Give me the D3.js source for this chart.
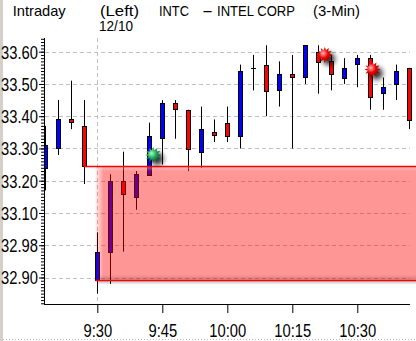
<!DOCTYPE html>
<html>
<head>
<meta charset='utf-8'>
<title>INTC Intraday</title>
<script src='https://d3js.org/d3.v7.min.js'></script>
<style>
  body { margin: 0; background: #fff; }
  svg { display: block; }
</style>
</head>
<body>
<div id='chart'></div>
<script>
// 3-min bars, 12/10
const times  = ['9:18','9:21','9:24','9:27','9:30','9:33','9:36','9:39','9:42','9:45',
                '9:48','9:51','9:54','9:57','10:00','10:03','10:06','10:09','10:12','10:15',
                '10:18','10:21','10:24','10:27','10:30','10:33','10:36','10:39','10:42'];
const opens  = [33.24, 33.30, 33.39, 33.37, 32.893, 32.98, 33.20, 33.15, 33.22, 33.33,
                33.44, 33.42, 33.29, 33.35, 33.38, 33.34, 33.55, 33.56, 33.48, 33.53,
                33.52, 33.60, 33.57, 33.52, 33.56, 33.58, 33.47, 33.50, 33.55];
const highs  = [33.37, 33.45, 33.51, 33.45, 33.04, 33.22, 33.29, 33.23, 33.38, 33.45,
                33.45, 33.42, 33.43, 33.39, 33.43, 33.56, 33.59, 33.62, 33.57, 33.59,
                33.62, 33.62, 33.59, 33.58, 33.59, 33.59, 33.52, 33.56, 33.55];
const lows   = [33.17, 33.28, 33.36, 33.19, 32.85, 32.88, 32.98, 33.11, 33.22, 33.25,
                33.33, 33.23, 33.24, 33.32, 33.32, 33.30, 33.48, 33.40, 33.43, 33.30,
                33.50, 33.47, 33.48, 33.50, 33.49, 33.42, 33.42, 33.45, 33.36];
const closes = [33.31, 33.39, 33.38, 33.245, 32.98, 33.20, 33.16, 33.22, 33.34, 33.44,
                33.42, 33.30, 33.36, 33.34, 33.34, 33.54, 33.55, 33.48, 33.53, 33.52,
                33.62, 33.57, 33.53, 33.55, 33.58, 33.46, 33.49, 33.54, 33.39];

const yTickValues = [32.90, 33.00, 33.10, 33.20, 33.30, 33.40, 33.50, 33.60];
const yTickLabels = ['32.90', '32.98', '33.10', '33.20', '33.30', '33.40', '33.50', '33.60'];
const xTickLabels = ['9:30', '9:45', '10:00', '10:15', '10:30'];

// signal markers (minutes after midnight, price, kind)
const markerMinutes = [582.9, 622.5, 633.5];
const markerPrices  = [33.28, 33.59, 33.545];
const markerKinds   = ['buy', 'sell', 'sell'];

const toMin = s => { const p = s.split(':'); return +p[0] * 60 + +p[1]; };

const W = 416, H = 341;
const padL = 44, padR = 410, axisY = 304, axisTop = 38;

const svg = d3.select('#chart').append('svg')
    .attr('width', W).attr('height', H);

const defs = svg.append('defs');
defs.append('clipPath').attr('id', 'plot')
  .append('rect').attr('x', padL + 1).attr('y', 0).attr('width', W - padL).attr('height', axisY);

const x = d3.scaleLinear().domain([toMin('9:30'), toMin('10:45')]).range([97.3, 422.3]);
const y = d3.scaleLinear().domain([32.90, 33.60]).range([277.5, 51.7]);

const bars = times.map((t, i) => ({t: toMin(t), o: opens[i], h: highs[i], l: lows[i], c: closes[i]}));

// window frame bits
svg.append('rect').attr('x', 0).attr('y', 0).attr('width', 3).attr('height', H).attr('fill', '#d4d0c8');
svg.append('line').attr('x1', 3).attr('x2', W).attr('y1', 339.5).attr('y2', 339.5)
   .attr('stroke', '#b8b8b8').attr('stroke-dasharray', '1,2');

// titles
const title = svg.append('g').attr('font-family', 'Liberation Sans, Arial, sans-serif')
    .attr('font-size', '15px').attr('fill', '#000');
const titleBits = [
  {t: 'Intraday', x: 12.7, y: 15.5, w: 53},
  {t: '(Left)', x: 100, y: 15.5, w: 39},
  {t: '12/10', x: 99, y: 31, w: 34},
  {t: 'INTC', x: 159, y: 15.5, w: 30},
  {t: '-', x: 202, y: 15.5, w: 11},
  {t: 'INTEL CORP', x: 217, y: 15.5, w: 78},
  {t: '(3-Min)', x: 313, y: 15.5, w: 47}
];
title.selectAll('text').data(titleBits).enter().append('text')
    .attr('x', d => d.x).attr('y', d => d.y)
    .attr('textLength', d => d.w).attr('lengthAdjust', 'spacingAndGlyphs')
    .text(d => d.t);

// grid
const grid = svg.append('g').attr('stroke', '#c0c0c0').attr('stroke-dasharray', '4,3');
grid.selectAll('line.h').data(yTickValues).enter().append('line')
    .attr('x1', padL + 1).attr('x2', padR)
    .attr('y1', d => Math.round(y(d)) + 0.5).attr('y2', d => Math.round(y(d)) + 0.5);
grid.append('line')
    .attr('x1', Math.round(x(toMin('9:30'))) + 0.5).attr('x2', Math.round(x(toMin('9:30'))) + 0.5)
    .attr('y1', axisTop).attr('y2', axisY);

// candles
const plot = svg.append('g').attr('clip-path', 'url(#plot)');
const cx = d => Math.round(x(d.t)) + 0.5;
plot.selectAll('line.wick').data(bars).enter().append('line')
    .attr('x1', cx).attr('x2', cx)
    .attr('y1', d => y(d.h)).attr('y2', d => y(d.l))
    .attr('stroke', '#000').attr('stroke-width', 1);
plot.selectAll('rect.body').data(bars).enter().append('rect')
    .attr('x', d => cx(d) - 2)
    .attr('width', 4)
    .attr('y', d => Math.round(y(Math.max(d.o, d.c))) + 0.5)
    .attr('height', d => Math.max(0.01, Math.round(Math.abs(y(d.o) - y(d.c)))))
    .attr('fill', d => d.c > d.o ? '#0000ff' : (d.c < d.o ? '#ff0000' : '#000'))
    .attr('stroke', '#000').attr('stroke-width', 1);

// opening gap band: prior close (9:27) to 9:30 open
const gapTop = closes[3], gapBottom = opens[4];
const gx0 = x(toMin('9:30'));
const gy0 = y(gapTop), gy1 = y(gapBottom);

const gFill = defs.append('linearGradient').attr('id', 'gapfill')
    .attr('gradientUnits', 'userSpaceOnUse').attr('x1', gx0 - 2).attr('x2', gx0 + 6).attr('y1', 0).attr('y2', 0);
gFill.append('stop').attr('offset', 0).attr('stop-color', '#ff0000').attr('stop-opacity', 0.05);
gFill.append('stop').attr('offset', 1).attr('stop-color', '#ff0000').attr('stop-opacity', 0.41);

const shade = defs.append('linearGradient').attr('id', 'shade').attr('x1', 0).attr('x2', 0).attr('y1', 0).attr('y2', 1);
shade.append('stop').attr('offset', 0).attr('stop-color', '#000').attr('stop-opacity', 0.28);
shade.append('stop').attr('offset', 1).attr('stop-color', '#000').attr('stop-opacity', 0);
const shadeUp = defs.append('linearGradient').attr('id', 'shadeup').attr('x1', 0).attr('x2', 0).attr('y1', 1).attr('y2', 0);
shadeUp.append('stop').attr('offset', 0).attr('stop-color', '#000').attr('stop-opacity', 0.18);
shadeUp.append('stop').attr('offset', 1).attr('stop-color', '#000').attr('stop-opacity', 0);
const light = defs.append('linearGradient').attr('id', 'light').attr('x1', 0).attr('x2', 0).attr('y1', 0).attr('y2', 1);
light.append('stop').attr('offset', 0).attr('stop-color', '#fff').attr('stop-opacity', 0.35);
light.append('stop').attr('offset', 1).attr('stop-color', '#fff').attr('stop-opacity', 0);

const gap = svg.append('g');
gap.append('rect').attr('x', gx0 - 2).attr('y', gy0).attr('width', W - gx0 + 2).attr('height', gy1 - gy0)
    .attr('fill', 'url(#gapfill)');
gap.append('rect').attr('x', gx0 + 2).attr('y', gy0 + 1).attr('width', W - gx0).attr('height', 4)
    .attr('fill', 'url(#light)');
gap.append('rect').attr('x', gx0 + 2).attr('y', gy1 - 5).attr('width', W - gx0).attr('height', 5)
    .attr('fill', 'url(#shadeup)');
gap.append('rect').attr('x', gx0 + 1).attr('y', gy1 + 1).attr('width', W - gx0).attr('height', 4)
    .attr('fill', 'url(#shade)');
gap.append('line').attr('x1', cx(bars[3]) - 0.5).attr('x2', W)
    .attr('y1', Math.round(gy0) + 0.5).attr('y2', Math.round(gy0) + 0.5)
    .attr('stroke', '#ff0000').attr('stroke-width', 1.5);
gap.append('line').attr('x1', cx(bars[4]) - 2).attr('x2', W)
    .attr('y1', Math.round(gy1) + 0.5).attr('y2', Math.round(gy1) + 0.5)
    .attr('stroke', '#ff0000').attr('stroke-width', 1.5);

// markers
const blur = defs.append('filter').attr('id', 'blur').attr('x', '-60%').attr('y', '-60%').attr('width', '220%').attr('height', '220%');
blur.append('feGaussianBlur').attr('stdDeviation', 2.6);
const grads = {buy: ['#a8ffc0', '#1fa35a', '#05502a'], sell: ['#ffb8b8', '#ee0000', '#8a0000']};
Object.keys(grads).forEach(k => {
  const g = defs.append('radialGradient').attr('id', 'star-' + k).attr('cx', '40%').attr('cy', '40%').attr('r', '60%');
  g.append('stop').attr('offset', 0).attr('stop-color', grads[k][0]);
  g.append('stop').attr('offset', 0.5).attr('stop-color', grads[k][1]);
  g.append('stop').attr('offset', 1).attr('stop-color', grads[k][2]);
});
const starPts = d3.range(24).map(i => {
  const a = i * Math.PI / 12 - Math.PI / 2, r = i % 2 ? 4.8 : 8;
  return [r * Math.cos(a), r * Math.sin(a)];
});
const starPath = d3.line()(starPts) + 'Z';
const marks = svg.selectAll('g.mark').data(markerMinutes.map((m, i) => ({m, p: markerPrices[i], k: markerKinds[i]})))
  .enter().append('g')
    .attr('transform', d => `translate(${x(d.m)},${y(d.p)})`);
marks.append('path').attr('d', starPath).attr('transform', 'translate(4,4)')
    .attr('fill', '#000').attr('opacity', 0.8).attr('filter', 'url(#blur)');
marks.append('path').attr('d', starPath).attr('fill', d => `url(#star-${d.k})`);

// axes: narrow digits, squeeze regular font to narrow widths
const axisFont = 'Liberation Sans, Arial, sans-serif';
const narrowWidth = s => s.split('').reduce((w, ch) => w + (/[0-9]/.test(ch) ? 8.2 : 4.1), 0);
const minor = d3.range(3282, 3365).map(v => v / 100);
svg.append('g').attr('transform', `translate(${padL},0)`)
    .call(d3.axisLeft(y).tickValues(minor).tickSize(3).tickFormat(''))
    .call(g => g.select('.domain').remove());
svg.append('g').attr('transform', `translate(${padL},0)`)
    .call(d3.axisLeft(y).tickValues(yTickValues).tickSize(5).tickPadding(1)
      .tickFormat((d, i) => yTickLabels[i]))
    .call(g => g.select('.domain').remove())
    .call(g => g.selectAll('text').attr('font-family', axisFont).attr('font-size', '18px')
      .attr('fill', '#000').attr('dy', '0.36em')
      .attr('textLength', function() { return narrowWidth(this.textContent); })
      .attr('lengthAdjust', 'spacingAndGlyphs'));
svg.append('line').attr('x1', padL + 0.5).attr('x2', padL + 0.5).attr('y1', axisTop).attr('y2', axisY + 1)
    .attr('stroke', '#000');

svg.append('g').attr('transform', `translate(0,${axisY})`)
    .call(d3.axisBottom(x).tickValues(xTickLabels.map(toMin)).tickSize(9).tickPadding(11)
      .tickFormat((d, i) => xTickLabels[i]))
    .call(g => g.select('.domain').remove())
    .call(g => g.selectAll('text').attr('font-family', axisFont).attr('font-size', '18px').attr('fill', '#000')
      .attr('textLength', function() { return narrowWidth(this.textContent); })
      .attr('lengthAdjust', 'spacingAndGlyphs'));
svg.append('line').attr('x1', padL).attr('x2', padR).attr('y1', axisY + 0.5).attr('y2', axisY + 0.5)
    .attr('stroke', '#000');
</script>
</body>
</html>
